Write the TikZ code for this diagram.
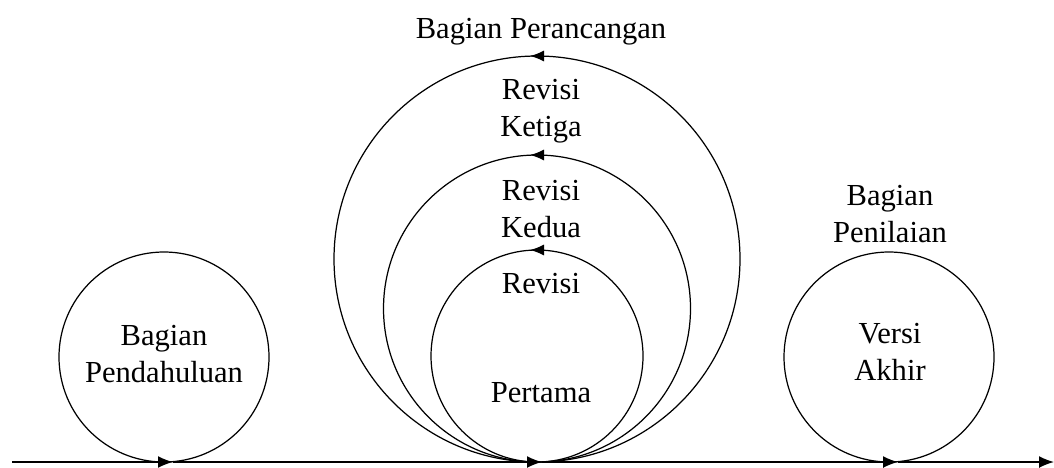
\documentclass[tikz,border=0pt]{standalone}
\usepackage{fontspec}
\setmainfont{Liberation Serif}
\usepackage{tikz}
\usetikzlibrary{positioning, arrows.meta}

\begin{document}
\begin{tikzpicture}[
  font=\fontsize{17.4}{21}\selectfont,
  ring/.style={draw, circle, inner sep=0pt, outer sep=0pt, line width=0.7pt, minimum size=#1},
  caption/.style={align=center, anchor=base, inner sep=0pt},
  flow/.style={line width=0.9pt, -{Latex[length=0.3cm, width=0.24cm]}},
  tip/.style={line width=0.7pt, -{Latex[length=0.28cm, width=0.22cm]}}
]
  \useasboundingbox (0,0) rectangle (21.08,9.34);
  % lingkaran
  \node[ring=4.2cm]  (pendahuluan) at (3.28,2.20) {};
  \node[ring=8.12cm] (rev3) at (10.74,4.16) {};
  \node[ring=6.14cm] (rev2) at (10.74,3.17) {};
  \node[ring=4.24cm] (rev1) at (10.74,2.22) {};
  \node[ring=4.2cm]  (penilaian) at (17.78,2.20) {};
  % panah di puncak lingkaran
  \foreach \c in {rev3, rev2, rev1}
    \draw[tip] ([xshift=0.12cm]\c.north) -- ([xshift=-0.14cm]\c.north);
  % garis waktu
  \coordinate (mulai) at (0.24,0.10);
  \coordinate (t1) at (3.46,0.10);
  \coordinate (t2) at (10.84,0.10);
  \coordinate (t3) at (17.96,0.10);
  \coordinate (selesai) at (21.08,0.10);
  \draw[flow] (mulai) -- (t1);
  \draw[flow] (t1) -- (t2);
  \draw[flow] (t2) -- (t3);
  \draw[flow] (t3) -- (selesai);
  % teks
  \node[caption] (judul) at (10.82,8.58) {Bagian Perancangan};
  \node[caption] (lbl3) at (10.82,6.62) {Revisi\\Ketiga};
  \node[caption] (lbl2) at (10.82,4.60) {Revisi\\Kedua};
  \node[caption] (lbl1a) at (10.82,3.48) {Revisi};
  \node[caption] (lbl1b) at (10.82,1.30) {Pertama};
  \node[caption] (lblawal) at (3.28,1.70) {Bagian\\Pendahuluan};
  \node[caption] (lblnilai) at (17.80,4.50) {Bagian\\Penilaian};
  \node[caption] (lblakhir) at (17.80,1.74) {Versi\\Akhir};
\end{tikzpicture}
\end{document}
